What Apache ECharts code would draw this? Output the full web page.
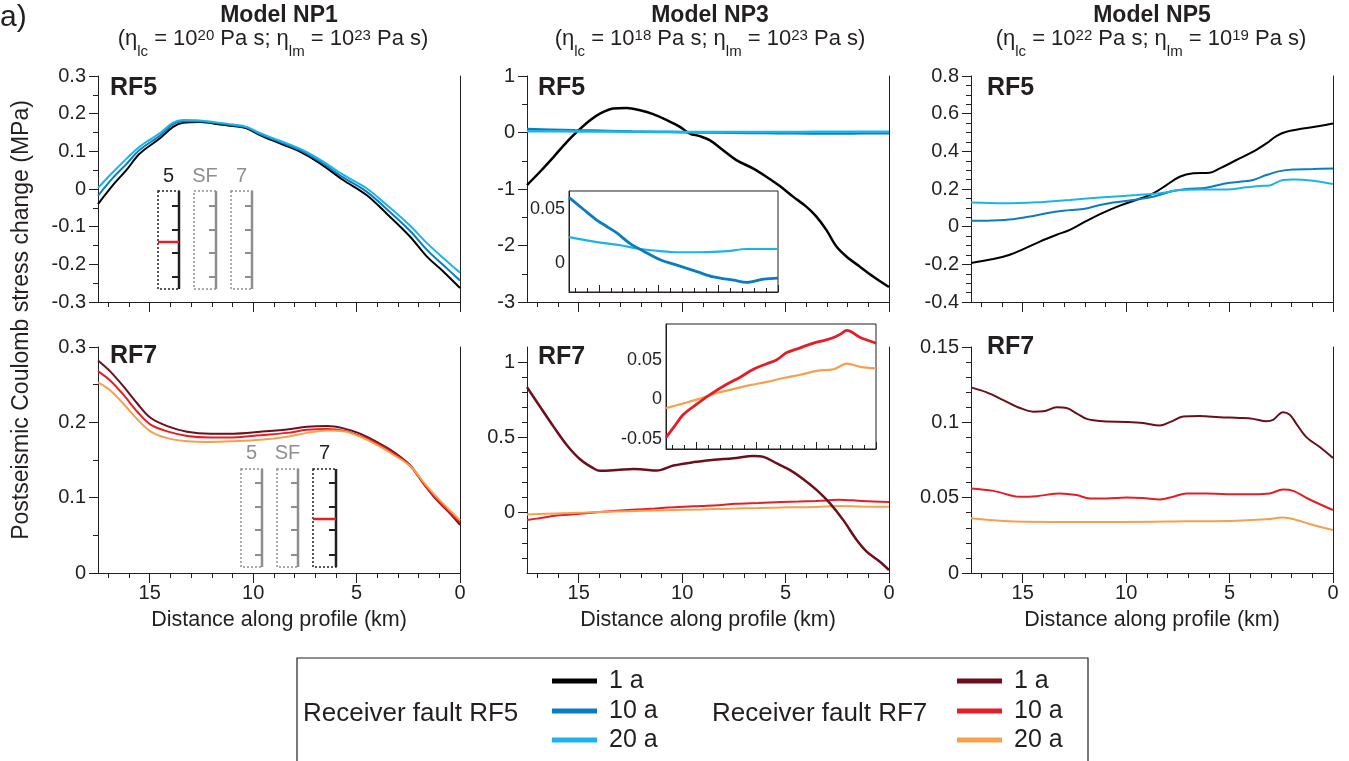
<!DOCTYPE html>
<html>
<head>
<meta charset="utf-8">
<script src="https://cdn.jsdelivr.net/npm/echarts@6/dist/echarts.min.js"></script>
<style>
  html, body { margin: 0; padding: 0; background: #ffffff; }
  #chart { width: 1349px; height: 761px; }
</style>
</head>
<body>
<div id="chart"></div>
<script>
// ---------- tick labels ----------
const kmMajorTicks = [0, 5, 10, 15];
const kmMinorTicks = [1, 2, 3, 4, 6, 7, 8, 9, 11, 12, 13, 14, 16, 17];
const np3Rf7MajorTicks = [0, 0.5, 1];
const np3Rf7MinorTicks = [-0.3, -0.2, -0.1, 0.1, 0.2, 0.3, 0.4, 0.6, 0.7, 0.8, 0.9];
const insetRf5Ticks = [0, 0.05];
const insetRf7Ticks = [-0.05, 0, 0.05];

// ---------- Model NP1 ----------
const np1Rf5Km = [17.5, 16.77, 16.13, 15.48, 14.52, 13.87, 13.39, 12.58, 11.94, 10.97, 10.32, 9.68, 8.71, 7.74, 6.77, 5.65, 4.52, 3.55, 2.42, 1.61, 0.81, 0];
const np1Rf5_1a = [-0.040, 0.011, 0.050, 0.094, 0.134, 0.165, 0.176, 0.178, 0.174, 0.167, 0.161, 0.143, 0.121, 0.099, 0.068, 0.024, -0.016, -0.065, -0.126, -0.179, -0.219, -0.263];
const np1Rf5_10a = [-0.018, 0.030, 0.066, 0.104, 0.141, 0.172, 0.180, 0.180, 0.176, 0.169, 0.163, 0.146, 0.125, 0.103, 0.073, 0.031, -0.007, -0.053, -0.111, -0.161, -0.202, -0.243];
const np1Rf5_20a = [0.003, 0.045, 0.080, 0.113, 0.148, 0.176, 0.183, 0.182, 0.178, 0.171, 0.165, 0.149, 0.128, 0.107, 0.078, 0.038, 0.002, -0.042, -0.097, -0.143, -0.183, -0.222];

const np1Rf7Km = [17.5, 16.89, 16.25, 15.6, 14.96, 14.15, 13.19, 12.06, 10.94, 9.65, 8.36, 7.4, 6.43, 5.63, 4.83, 4.02, 3.22, 2.41, 1.77, 1.13, 0.48, 0];
const np1Rf7_1a = [0.282, 0.267, 0.247, 0.225, 0.206, 0.195, 0.1875, 0.185, 0.185, 0.1875, 0.1906, 0.194, 0.195, 0.192, 0.185, 0.174, 0.161, 0.143, 0.119, 0.097, 0.079, 0.064];
const np1Rf7_10a = [0.268, 0.255, 0.236, 0.214, 0.197, 0.188, 0.182, 0.180, 0.180, 0.183, 0.186, 0.190, 0.191, 0.189, 0.182, 0.172, 0.159, 0.142, 0.119, 0.098, 0.080, 0.067];
const np1Rf7_20a = [0.253, 0.242, 0.224, 0.204, 0.188, 0.179, 0.175, 0.174, 0.175, 0.177, 0.181, 0.186, 0.189, 0.188, 0.181, 0.170, 0.157, 0.142, 0.121, 0.101, 0.083, 0.070];

// ---------- Model NP3 ----------
const np3Rf5_1aKm = [17.5, 16.86, 16.21, 15.57, 15.09, 14.45, 13.97, 13.33, 12.68, 12.04, 11.4, 10.75, 10.11, 9.63, 9.15, 8.67, 8.02, 7.38, 6.58, 5.93, 5.28, 4.64, 4.0, 3.51, 3.03, 2.54, 2.06, 1.42, 0.77, 0];
const np3Rf5_1a = [-0.93, -0.69, -0.43, -0.165, 0.012, 0.218, 0.335, 0.424, 0.435, 0.394, 0.324, 0.218, 0.10, -0.018, -0.065, -0.135, -0.312, -0.488, -0.635, -0.782, -0.947, -1.135, -1.312, -1.488, -1.724, -2.018, -2.194, -2.371, -2.547, -2.735];
const np3Rf5_10aKm = [17.5, 16.3, 15.18, 14.34, 13.5, 12.38, 11.26, 9.87, 8.47, 6.79, 5.40, 3.72, 2.60, 1.20, 0];
const np3Rf5_10a = [0.061, 0.050, 0.040, 0.034, 0.028, 0.018, 0.011, 0.003, -0.002, -0.008, -0.013, -0.016, -0.018, -0.015, -0.014];
const np3Rf5_20aKm = [17.5, 14.9, 13.2, 11.5, 9.87, 8.47, 6.51, 4.28, 2.6, 0];
const np3Rf5_20a = [0.024, 0.019, 0.0165, 0.013, 0.011, 0.010, 0.010, 0.011, 0.013, 0.013];

const np3Rf7_1aKm = [17.5, 16.86, 16.21, 15.57, 14.92, 14.28, 13.96, 13.15, 12.35, 11.87, 11.22, 10.42, 9.45, 8.48, 7.52, 6.55, 6.07, 5.42, 4.78, 4.14, 3.49, 2.85, 2.21, 1.56, 1.08, 0.44, 0];
const np3Rf7_1a = [0.834, 0.702, 0.570, 0.448, 0.353, 0.294, 0.278, 0.283, 0.291, 0.287, 0.280, 0.313, 0.336, 0.351, 0.362, 0.377, 0.371, 0.327, 0.283, 0.223, 0.150, 0.062, -0.049, -0.181, -0.258, -0.325, -0.380];
const np3Rf7_10aKm = [17.5, 16.89, 16.05, 14.94, 13.83, 12.44, 11.32, 10.21, 9.10, 8.26, 7.43, 6.32, 5.20, 4.37, 3.53, 2.98, 2.42, 1.31, 0];
const np3Rf7_10a = [-0.048, -0.036, -0.019, -0.006, 0.006, 0.019, 0.028, 0.038, 0.045, 0.050, 0.059, 0.065, 0.071, 0.074, 0.078, 0.082, 0.087, 0.078, 0.071];
const np3Rf7_20aKm = [17.5, 16.05, 14.66, 13.27, 11.88, 10.49, 9.1, 7.71, 6.32, 4.92, 3.53, 2.42, 1.31, 0];
const np3Rf7_20a = [-0.011, -0.005, 0.001, 0.008, 0.013, 0.018, 0.022, 0.027, 0.031, 0.036, 0.038, 0.045, 0.041, 0.039];

// ---------- Model NP5 ----------
const np5Rf5_1aKm = [17.5, 16.42, 15.62, 14.97, 14.17, 13.36, 12.72, 11.91, 11.1, 10.3, 9.5, 8.69, 8.05, 7.41, 6.76, 5.96, 5.47, 4.67, 3.86, 3.22, 2.74, 2.25, 1.45, 0.64, 0];
const np5Rf5_1a = [-0.193, -0.172, -0.149, -0.119, -0.079, -0.043, -0.017, 0.031, 0.075, 0.112, 0.142, 0.177, 0.221, 0.265, 0.283, 0.286, 0.309, 0.354, 0.398, 0.442, 0.481, 0.504, 0.521, 0.535, 0.548];
const np5Rf5_10aKm = [17.5, 16.5, 15.46, 14.65, 13.85, 13.04, 12.07, 11.27, 10.62, 9.66, 8.69, 7.73, 7.09, 6.12, 5.15, 4.51, 3.86, 3.22, 2.58, 1.93, 0.97, 0];
const np5Rf5_10a = [0.031, 0.033, 0.040, 0.054, 0.071, 0.084, 0.094, 0.115, 0.128, 0.142, 0.159, 0.189, 0.200, 0.207, 0.230, 0.239, 0.248, 0.274, 0.295, 0.304, 0.306, 0.309];
const np5Rf5_20aKm = [17.5, 15.94, 14.33, 12.72, 11.1, 9.5, 8.37, 7.41, 6.44, 5.15, 4.18, 3.54, 3.06, 2.42, 1.93, 0.97, 0];
const np5Rf5_20a = [0.128, 0.124, 0.129, 0.142, 0.156, 0.168, 0.177, 0.195, 0.198, 0.198, 0.209, 0.216, 0.219, 0.248, 0.251, 0.244, 0.226];

const np5Rf7_1aKm = [17.5, 16.74, 15.94, 15.13, 14.49, 14.0, 13.36, 12.88, 12.4, 11.91, 11.1, 9.98, 9.18, 8.37, 7.89, 7.24, 6.44, 5.47, 4.51, 3.86, 3.22, 2.9, 2.42, 2.09, 1.77, 1.29, 0.64, 0];
const np5Rf7_1a = [0.1232, 0.1199, 0.1148, 0.1095, 0.1071, 0.1073, 0.1100, 0.1095, 0.1060, 0.1023, 0.1007, 0.1003, 0.0996, 0.0979, 0.1001, 0.1038, 0.1042, 0.1034, 0.1029, 0.1023, 0.1007, 0.1016, 0.1067, 0.1051, 0.0990, 0.0902, 0.0836, 0.0763];
const np5Rf7_10aKm = [17.5, 16.42, 15.13, 14.33, 13.2, 12.4, 11.75, 10.95, 9.98, 9.18, 8.37, 7.73, 7.09, 6.12, 5.15, 3.86, 3.06, 2.42, 1.93, 1.13, 0];
const np5Rf7_10a = [0.0561, 0.0545, 0.0506, 0.0510, 0.0528, 0.0517, 0.0495, 0.0495, 0.0501, 0.0497, 0.0488, 0.0506, 0.0528, 0.0528, 0.0523, 0.0523, 0.0528, 0.0554, 0.0545, 0.0488, 0.0418];
const np5Rf7_20aKm = [17.5, 15.94, 13.53, 10.3, 7.09, 4.67, 3.22, 2.42, 1.77, 0.97, 0];
const np5Rf7_20a = [0.0363, 0.0345, 0.0339, 0.0339, 0.0343, 0.0347, 0.0356, 0.0369, 0.0352, 0.0319, 0.0286];

// ---------- styling ----------
const FONT = '"Liberation Sans", Arial, Helvetica, sans-serif';
const INK = '#231f20';
const GREY = '#8c8e90';
const RF5_1A = '#000000', RF5_10A = '#0a7dc2', RF5_20A = '#1ab4e8';
const RF7_1A = '#6d0f1a', RF7_10A = '#e41e26', RF7_20A = '#f6a04d';

const zip = (xs, ys) => xs.map((x, i) => [x, ys[i]]);

const grid = [], xAxis = [], yAxis = [], series = [];

function addKmAxes(gi, o) {
  const xi = xAxis.length;
  xAxis.push({
    type: 'value', gridIndex: gi, position: 'bottom', min: 0, max: 17.5, inverse: true,
    axisLine: { show: true, onZero: false, lineStyle: { color: INK, width: 1 } },
    axisTick: { show: true, inside: !!o.inside, customValues: kmMajorTicks, length: o.majorLen, lineStyle: { color: INK, width: 1 } },
    axisLabel: o.labels
      ? { show: true, customValues: kmMajorTicks, margin: 10, fontSize: 20, fontFamily: FONT, color: INK }
      : { show: false },
    splitLine: { show: false },
    name: o.labels ? 'Distance along profile (km)' : '',
    nameLocation: 'middle', nameGap: 36,
    nameTextStyle: { fontSize: 21.5, fontFamily: FONT, color: INK }
  });
  xAxis.push({
    type: 'value', gridIndex: gi, position: 'bottom', min: 0, max: 17.5, inverse: true,
    axisLine: { show: false, onZero: false },
    axisTick: { show: true, inside: !!o.inside, customValues: kmMinorTicks, length: o.minorLen, lineStyle: { color: INK, width: 1 } },
    axisLabel: { show: false }, splitLine: { show: false }
  });
  return xi;
}

function addValueAxes(gi, y) {
  const yi = yAxis.length;
  const main = {
    type: 'value', gridIndex: gi, position: 'left', min: y.min, max: y.max,
    axisLine: { show: true, onZero: false, lineStyle: { color: INK, width: 1 } },
    axisTick: { show: !y.noTicks, length: 9, lineStyle: { color: INK, width: 1 } },
    axisLabel: { margin: y.margin || 12, fontSize: y.fontSize || 20, fontFamily: FONT, color: INK },
    splitLine: { show: false }
  };
  if (y.interval) main.interval = y.interval;
  if (y.minor) main.minorTick = { show: true, splitNumber: y.minor, length: 5, lineStyle: { color: INK, width: 1 } };
  if (y.labelValues) {
    main.axisLabel.customValues = y.labelValues;
    main.axisTick.customValues = y.labelValues;
  }
  yAxis.push(main);
  if (y.minorValues) {
    yAxis.push({
      type: 'value', gridIndex: gi, position: 'left', min: y.min, max: y.max,
      axisLine: { show: false, onZero: false },
      axisTick: { show: true, customValues: y.minorValues, length: 5, lineStyle: { color: INK, width: 1 } },
      axisLabel: { show: false }, splitLine: { show: false }
    });
  }
  if (y.frameRight) {
    yAxis.push({
      type: 'value', gridIndex: gi, position: 'right', min: y.min, max: y.max,
      axisLine: { show: true, onZero: false, lineStyle: { color: INK, width: 1 } },
      axisTick: { show: false }, axisLabel: { show: false }, splitLine: { show: false }
    });
  }
  return yi;
}

function addLines(xi, yi, lines, z) {
  lines.forEach(([km, vals, color, width]) => {
    series.push({
      type: 'line', xAxisIndex: xi, yAxisIndex: yi,
      data: zip(km, vals), showSymbol: false, symbol: 'none',
      smooth: 0.35, z: z || 2,
      lineStyle: { color, width }, itemStyle: { color },
      silent: true, animation: false
    });
  });
}

// main panels
const PW = 362, PH = 226;
const panels = [
  { left: 98, top: 76, labels: false,
    y: { min: -0.3, max: 0.3, interval: 0.1, minor: 2 },
    lines: [[np1Rf5Km, np1Rf5_1a, RF5_1A, 2], [np1Rf5Km, np1Rf5_10a, RF5_10A, 2], [np1Rf5Km, np1Rf5_20a, RF5_20A, 2]] },
  { left: 527, top: 76, labels: false,
    y: { min: -3, max: 1, interval: 1, minor: 2 },
    lines: [[np3Rf5_1aKm, np3Rf5_1a, RF5_1A, 2.5], [np3Rf5_10aKm, np3Rf5_10a, RF5_10A, 2.5], [np3Rf5_20aKm, np3Rf5_20a, RF5_20A, 2.5]] },
  { left: 971, top: 76, labels: false,
    y: { min: -0.4, max: 0.8, interval: 0.2, minor: 4 },
    lines: [[np5Rf5_1aKm, np5Rf5_1a, RF5_1A, 2], [np5Rf5_10aKm, np5Rf5_10a, RF5_10A, 2], [np5Rf5_20aKm, np5Rf5_20a, RF5_20A, 2]] },
  { left: 98, top: 347, labels: true,
    y: { min: 0, max: 0.3, interval: 0.1, minor: 2 },
    lines: [[np1Rf7Km, np1Rf7_1a, RF7_1A, 2], [np1Rf7Km, np1Rf7_10a, RF7_10A, 2], [np1Rf7Km, np1Rf7_20a, RF7_20A, 2]] },
  { left: 527, top: 347, labels: true,
    y: { min: -0.4, max: 1.1, labelValues: np3Rf7MajorTicks, minorValues: np3Rf7MinorTicks },
    lines: [[np3Rf7_10aKm, np3Rf7_10a, RF7_10A, 2], [np3Rf7_20aKm, np3Rf7_20a, RF7_20A, 2], [np3Rf7_1aKm, np3Rf7_1a, RF7_1A, 2.5]] },
  { left: 971, top: 347, labels: true,
    y: { min: 0, max: 0.15, interval: 0.05, minor: 5 },
    lines: [[np5Rf7_1aKm, np5Rf7_1a, RF7_1A, 2], [np5Rf7_10aKm, np5Rf7_10a, RF7_10A, 2], [np5Rf7_20aKm, np5Rf7_20a, RF7_20A, 2]] }
];

panels.forEach(p => {
  const gi = grid.length;
  grid.push({ left: p.left, top: p.top, width: PW, height: PH, show: false, containLabel: false });
  const xi = addKmAxes(gi, { labels: p.labels, majorLen: 10, minorLen: 5 });
  const yi = addValueAxes(gi, Object.assign({ frameRight: true }, p.y));
  addLines(xi, yi, p.lines);
});

// inset panels (zoomed views of the 10 a and 20 a curves)
const insets = [
  { left: 569, top: 191, width: 209, height: 101,
    y: { min: -0.027, max: 0.067, labelValues: insetRf5Ticks, noTicks: true, fontSize: 18, margin: 4 },
    lines: [[np3Rf5_20aKm, np3Rf5_20a, RF5_20A, 2.2], [np3Rf5_10aKm, np3Rf5_10a, RF5_10A, 2.8]] },
  { left: 666, top: 324, width: 210, height: 125,
    y: { min: -0.0625, max: 0.095, labelValues: insetRf7Ticks, noTicks: true, fontSize: 18, margin: 4 },
    lines: [[np3Rf7_20aKm, np3Rf7_20a, RF7_20A, 2.2], [np3Rf7_10aKm, np3Rf7_10a, RF7_10A, 2.8]] }
];

insets.forEach(p => {
  const gi = grid.length;
  grid.push({ left: p.left, top: p.top, width: p.width, height: p.height, show: true,
    borderColor: INK, borderWidth: 1, backgroundColor: '#ffffff', z: 3 });
  const xi = addKmAxes(gi, { labels: false, inside: true, majorLen: 7, minorLen: 4 });
  xAxis[xi].z = 4; xAxis[xi + 1].z = 4;
  const yi = addValueAxes(gi, p.y);
  yAxis[yi].z = 4;
  addLines(xi, yi, p.lines, 5);
});

// ---------- annotations ----------
const graphic = [];
const txt = (x, y, text, font, extra) => graphic.push(Object.assign({
  type: 'text', x, y, silent: true,
  style: Object.assign({ text, font, fill: INK, align: 'center', verticalAlign: 'middle' }, extra || {})
}));

txt(0, 18, 'a)', '30px ' + FONT, { align: 'left' });

// model headers; viscosities use sub/superscript runs
const models = [
  { cx: 279, subCx: 273, name: 'Model NP1', lc: '20', lm: '23' },
  { cx: 710, subCx: 710, name: 'Model NP3', lc: '18', lm: '23' },
  { cx: 1152, subCx: 1151, name: 'Model NP5', lc: '22', lm: '19' }
];
models.forEach(m => {
  txt(m.cx, 16, m.name, 'bold 23px ' + FONT);
  const sub = '{b|(η}{sub|lc}{b| = 10}{sup|' + m.lc + '}{b| Pa s; η}{sub|lm}{b| = 10}{sup|' + m.lm + '}{b| Pa s)}';
  graphic.push({
    type: 'text', x: m.subCx, y: 39, silent: true,
    style: {
      text: sub, font: '22px ' + FONT, fill: INK,
      align: 'center', verticalAlign: 'middle',
      rich: {
        b: { font: '22px ' + FONT, fill: INK, lineHeight: 40, verticalAlign: 'middle' },
        sup: { font: '15px ' + FONT, fill: INK, verticalAlign: 'top', padding: [9, 0, 0, 0] },
        sub: { font: '15px ' + FONT, fill: INK, verticalAlign: 'top', padding: [25, 0, 0, 0] }
      }
    }
  });
});

[[110, 88, 'RF5'], [538, 88, 'RF5'], [987, 88, 'RF5'],
 [110, 356, 'RF7'], [538, 357, 'RF7'], [987, 347, 'RF7']].forEach(([x, y, t]) =>
  txt(x, y, t, 'bold 25px ' + FONT, { align: 'left' }));

graphic.push({
  type: 'text', x: 22, y: 320, rotation: Math.PI / 2, silent: true,
  style: { text: 'Postseismic Coulomb stress change (MPa)', font: '23px ' + FONT, fill: INK, align: 'center', verticalAlign: 'middle' }
});

// receiver-fault schematic: fault columns 5, SF, 7 with the active one highlighted
function faultColumns(cols, y0, y1, ticks, labelY) {
  cols.forEach(c => {
    const col = c.active ? INK : GREY;
    graphic.push({ type: 'rect', silent: true,
      shape: { x: c.x0, y: y0, width: c.x1 - c.x0, height: y1 - y0 },
      style: { fill: 'none', stroke: col, lineWidth: 1.5, lineDash: [2, 2] } });
    graphic.push({ type: 'line', silent: true,
      shape: { x1: c.x1, y1: y0, x2: c.x1, y2: y1 },
      style: { stroke: col, lineWidth: 2.5 } });
    ticks.forEach(ty => graphic.push({ type: 'line', silent: true,
      shape: { x1: c.x1 - 7, y1: ty, x2: c.x1, y2: ty },
      style: { stroke: col, lineWidth: 2 } }));
    if (c.red) graphic.push({ type: 'line', silent: true,
      shape: { x1: c.x0, y1: c.red, x2: c.x1, y2: c.red },
      style: { stroke: RF7_10A, lineWidth: 2.5 } });
    txt((c.x0 + c.x1) / 2, labelY, c.label, '20px ' + FONT, { fill: c.active ? INK : GREY });
  });
}
faultColumns([
  { x0: 158, x1: 179, label: '5', active: true, red: 242 },
  { x0: 194, x1: 216, label: 'SF' },
  { x0: 231, x1: 252, label: '7' }
], 191, 289, [206, 230, 253, 277], 176);
faultColumns([
  { x0: 241, x1: 262, label: '5' },
  { x0: 277, x1: 298, label: 'SF' },
  { x0: 313, x1: 336, label: '7', active: true, red: 519 }
], 469, 567, [483, 507, 530, 555], 453);

// legend box
graphic.push({ type: 'rect', silent: true,
  shape: { x: 297, y: 658, width: 791, height: 130 },
  style: { fill: 'none', stroke: INK, lineWidth: 1.2 } });
const legendRows = [681, 711, 740];
const legendLabels = ['1 a', '10 a', '20 a'];
[
  { title: 'Receiver fault RF5', tx: 303, lx: 552, colors: [RF5_1A, RF5_10A, RF5_20A] },
  { title: 'Receiver fault RF7', tx: 712, lx: 957, colors: [RF7_1A, RF7_10A, RF7_20A] }
].forEach(g => {
  txt(g.tx, 714, g.title, '26px ' + FONT, { align: 'left' });
  legendRows.forEach((ry, i) => {
    graphic.push({ type: 'line', silent: true,
      shape: { x1: g.lx, y1: ry, x2: g.lx + 45, y2: ry },
      style: { stroke: g.colors[i], lineWidth: 5 } });
    txt(g.lx + 57, ry, legendLabels[i], '25px ' + FONT, { align: 'left' });
  });
});

const chart = echarts.init(document.getElementById('chart'), null, { renderer: 'canvas' });
chart.setOption({
  backgroundColor: '#ffffff',
  animation: false,
  textStyle: { fontFamily: FONT },
  grid, xAxis, yAxis, series, graphic
});
</script>
</body>
</html>
